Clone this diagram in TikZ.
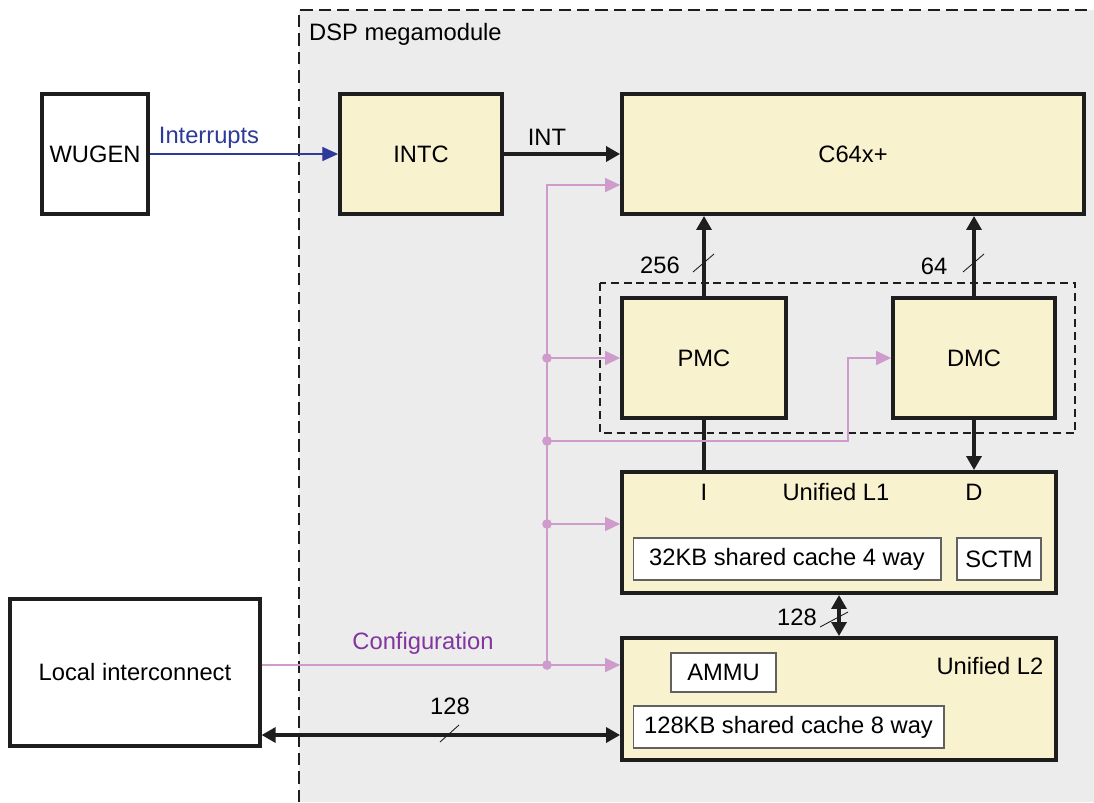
\documentclass[tikz,border=0pt]{standalone}
\usepackage{fontspec}
\setmainfont{Liberation Sans}
\usetikzlibrary{arrows.meta}

\definecolor{megagray}{HTML}{ECECEC}
\definecolor{cream}{HTML}{F8F2CE}
\definecolor{cfgpink}{HTML}{CE9BCB}
\definecolor{cfgpurple}{HTML}{8234A0}
\definecolor{intblue}{HTML}{2E3A99}
\definecolor{ink}{HTML}{1E1E1E}

\tikzset{
  blk/.style={draw=ink, line width=2.2pt, fill=cream, inner sep=0pt},
  extblk/.style={draw=ink, line width=1.8pt, fill=white, inner sep=0pt},
  sub/.style={draw=ink!70, line width=0.6pt, fill=white, inner sep=0pt},
  bus/.style={draw=ink, line width=2pt, -{Triangle[length=8pt,width=8.5pt]}},
  dbus/.style={draw=ink, line width=2pt, {Triangle[length=8pt,width=8.5pt]}-{Triangle[length=8pt,width=8.5pt]}},
  cfg/.style={draw=cfgpink, line width=0.6pt, -{Triangle[length=8.5pt,width=8pt]}},
  dot/.style={circle, fill=cfgpink, inner sep=0pt, minimum size=5.5pt},
  slash/.style={draw=ink, line width=0.5pt},
}

\begin{document}
\begin{tikzpicture}[x=0.02cm, y=-0.02cm, font=\fontsize{13.5}{16}\selectfont]
    \useasboundingbox (0,0) rectangle (1094,802);

    % megamodule area
    \fill[megagray] (299,10) rectangle (1094,802);
    \draw[ink, line width=1.5pt, dash pattern=on 7pt off 3.5pt] (299,802) -- (299,10) -- (1094,10);
    \node[anchor=west] (mega) at (303,34) {DSP megamodule};

    % cache controllers group
    \draw[ink, line width=1.3pt, dash pattern=on 4.5pt off 2.8pt] (600,283) rectangle (1075,433);

    % blocks
    \node[extblk, minimum width=2.12cm, minimum height=2.4cm] (wugen) at (95,154) {WUGEN};
    \node[blk, minimum width=3.24cm, minimum height=2.4cm] (intc) at (421,154) {INTC};
    \node[blk, minimum width=9.24cm, minimum height=2.4cm] (cpu) at (853,154) {C64x+};
    \node[blk, minimum width=3.28cm, minimum height=2.4cm] (pmc) at (704,358) {PMC};
    \node[blk, minimum width=3.24cm, minimum height=2.4cm] (dmc) at (974,358) {DMC};
    \node[blk, minimum width=8.68cm, minimum height=2.42cm] (lone) at (839,532.5) {};
    \node[blk, minimum width=8.68cm, minimum height=2.44cm] (ltwo) at (839,699) {};
    \node[extblk, minimum width=5cm, minimum height=2.94cm] (local) at (135,672.5) {Local interconnect};

    % inside L1 / L2
    \node (lonetxt) at (836,492) {Unified L1};
    \node (itxt) at (704,492) {I};
    \node (dtxt) at (974,492) {D};
    \node[sub, minimum width=6.16cm, minimum height=0.84cm] (cacheone) at (787,559) {32KB shared cache 4 way};
    \node[sub, minimum width=1.68cm, minimum height=0.84cm] (sctm) at (999,559) {SCTM};
    \node (ltwotxt) at (990,666) {Unified L2};
    \node[sub, minimum width=2.1cm, minimum height=0.78cm] (ammu) at (723.5,672.5) {AMMU};
    \node[sub, minimum width=6.22cm, minimum height=0.84cm] (cachetwo) at (788.5,727) {128KB shared cache 8 way};

    % interrupts
    \draw[intblue, line width=0.8pt, -{Triangle[length=9pt,width=8pt]}] (wugen.east) -- (intc.west);
    \node[intblue] (irqlbl) at (209,138) {Interrupts};
    \draw[bus] (intc.east) -- (cpu.west);
    \node (intlbl) at (547,137) {INT};

    % fetch and data paths
    \draw[bus] (pmc.north) -- (pmc.north |- cpu.south);
    \draw[slash] (693,272) -- (714,254);
    \node (pbits) at (660,265) {256};
    \draw[bus] (dmc.north) -- (dmc.north |- cpu.south);
    \draw[slash] (963,272) -- (984,254);
    \node (dbits) at (934,266) {64};
    \draw[ink, line width=2pt] (pmc.south) -- (pmc.south |- lone.north);
    \draw[bus] (dmc.south) -- (dmc.south |- lone.north);

    % L1 <-> L2
    \draw[dbus] (lone.south) -- (ltwo.north);
    \draw[slash] (820,627) -- (848,612);
    \node (lbits) at (797,617) {128};

    % local interconnect <-> L2
    \coordinate (busy) at (0,735);
    \draw[dbus] (local.east |- busy) -- (ltwo.west |- busy);
    \draw[slash] (440,742) -- (459,725);
    \node (bbits) at (450,706) {128};

    % configuration
    \coordinate (cfgy) at (0,665);
    \coordinate (tap) at (547,665);
    \draw[cfg] (local.east |- cfgy) -- (ltwo.west |- cfgy);
    \node[cfgpurple] (cfglbl) at (423,643) {Configuration};
    \draw[cfg] (tap) -- (547,185) -- (cpu.west |- 0,185);
    \node[dot] (dpmc) at (547,358) {};
    \node[dot] (ddmc) at (547,441) {};
    \node[dot] (dlone) at (547,524) {};
    \node[dot] (dltwo) at (tap) {};
    \draw[cfg] (dpmc.center) -- (pmc.west);
    \draw[cfg] (ddmc.center) -- (848,441) -- (848,358) -- (dmc.west);
    \draw[cfg] (dlone.center) -- (lone.west |- dlone);
\end{tikzpicture}
\end{document}
